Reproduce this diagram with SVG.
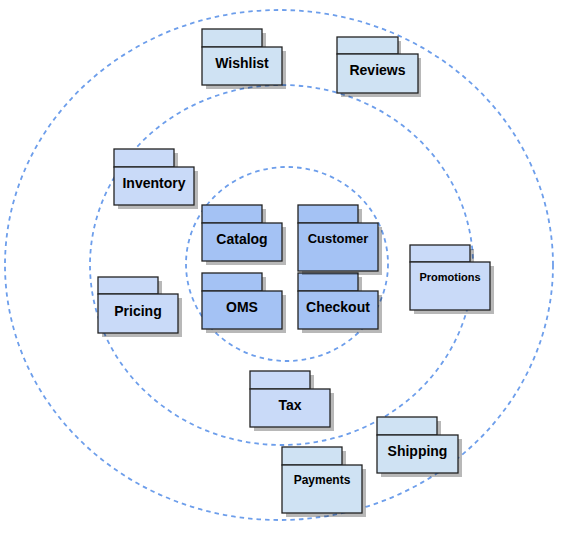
<svg xmlns="http://www.w3.org/2000/svg" width="573" height="540" viewBox="0 0 573 540">
<style>
.ring{fill:none;stroke:#6d9eeb;stroke-width:1.8;stroke-dasharray:4.5 4}
.sh{fill:#000;fill-opacity:0.28}
.pk{stroke:#222;stroke-width:1.3}
.outer{fill:#cfe2f3}
.mid{fill:#c9daf8}
.inner{fill:#a4c2f4}
text{font-family:"Liberation Sans",Arial,sans-serif;font-weight:bold;fill:#000;text-anchor:middle}
.f14{font-size:14px}
.f13{font-size:13px}
.f12{font-size:12px}
.f11{font-size:11px}
</style>
<rect width="573" height="540" fill="#fff"/>
<g id="rings">
<ellipse class="ring" cx="279" cy="265" rx="274" ry="255"/>
<ellipse class="ring" cx="281.5" cy="265" rx="191.5" ry="180"/>
<ellipse class="ring" cx="287" cy="264" rx="101" ry="97"/>
</g>
<g id="connectors"></g>
<g id="wishlist">
<rect class="sh" x="206" y="33" width="60" height="18"/><rect class="sh" x="206" y="51" width="80" height="38"/>
<rect class="pk outer" x="202" y="29" width="60" height="18"/><rect class="pk outer" x="202" y="47" width="80" height="38"/>
<text class="f14" x="242" y="68">Wishlist</text>
</g>
<g id="reviews">
<rect class="sh" x="341" y="41" width="60" height="18"/><rect class="sh" x="341" y="58" width="80" height="39"/>
<rect class="pk outer" x="337" y="37" width="61" height="17"/><rect class="pk outer" x="337" y="54" width="81" height="39"/>
<text class="f14" x="377.5" y="75">Reviews</text>
</g>
<g id="inventory">
<rect class="sh" x="118" y="153" width="60" height="18"/><rect class="sh" x="118" y="171" width="80" height="38"/>
<rect class="pk mid" x="114" y="149" width="60" height="18"/><rect class="pk mid" x="114" y="167" width="80" height="38"/>
<text class="f14" x="154" y="188">Inventory</text>
</g>
<g id="pricing">
<rect class="sh" x="102" y="281" width="60" height="17"/><rect class="sh" x="102" y="298" width="80" height="39"/>
<rect class="pk mid" x="98" y="277" width="60" height="17"/><rect class="pk mid" x="98" y="294" width="80" height="39"/>
<text class="f14" x="138" y="316">Pricing</text>
</g>
<g id="promotions">
<rect class="sh" x="414" y="249" width="60" height="17"/><rect class="sh" x="414" y="266" width="80" height="48"/>
<rect class="pk mid" x="410" y="245" width="60" height="17"/><rect class="pk mid" x="410" y="262" width="80" height="48"/>
<text class="f11" x="450" y="281">Promotions</text>
</g>
<g id="tax">
<rect class="sh" x="254" y="375" width="60" height="18"/><rect class="sh" x="254" y="393" width="80" height="38"/>
<rect class="pk mid" x="250" y="371" width="60" height="18"/><rect class="pk mid" x="250" y="389" width="80" height="38"/>
<text class="f14" x="290" y="410">Tax</text>
</g>
<g id="catalog">
<rect class="sh" x="206" y="209" width="60" height="18"/><rect class="sh" x="206" y="227" width="80" height="38"/>
<rect class="pk inner" x="202" y="205" width="60" height="18"/><rect class="pk inner" x="202" y="223" width="80" height="38"/>
<text class="f14" x="242" y="244">Catalog</text>
</g>
<g id="oms">
<rect class="sh" x="206" y="277" width="60" height="18"/><rect class="sh" x="206" y="295" width="80" height="38"/>
<rect class="pk inner" x="202" y="273" width="60" height="18"/><rect class="pk inner" x="202" y="291" width="80" height="38"/>
<text class="f14" x="242" y="312">OMS</text>
</g>
<g id="checkout">
<rect class="sh" x="302" y="277" width="60" height="18"/><rect class="sh" x="302" y="295" width="80" height="38"/>
<rect class="pk inner" x="298" y="273" width="60" height="18"/><rect class="pk inner" x="298" y="291" width="80" height="38"/>
<text class="f14" x="338" y="312">Checkout</text>
</g>
<g id="customer">
<rect class="sh" x="302" y="209" width="60" height="18"/><rect class="sh" x="302" y="227" width="80" height="48"/>
<rect class="pk inner" x="298" y="205" width="60" height="18"/><rect class="pk inner" x="298" y="223" width="80" height="48"/>
<text class="f13" x="338" y="243">Customer</text>
</g>
<g id="shipping">
<rect class="sh" x="381" y="421" width="60" height="18"/><rect class="sh" x="381" y="439" width="81" height="38"/>
<rect class="pk outer" x="377" y="417" width="60" height="18"/><rect class="pk outer" x="377" y="435" width="81" height="38"/>
<text class="f14" x="417.5" y="456">Shipping</text>
</g>
<g id="payments">
<rect class="sh" x="286" y="451" width="60" height="18"/><rect class="sh" x="286" y="469" width="80" height="48"/>
<rect class="pk outer" x="282" y="447" width="60" height="18"/><rect class="pk outer" x="282" y="465" width="80" height="48"/>
<text class="f12" x="322" y="484">Payments</text>
</g>
</svg>
